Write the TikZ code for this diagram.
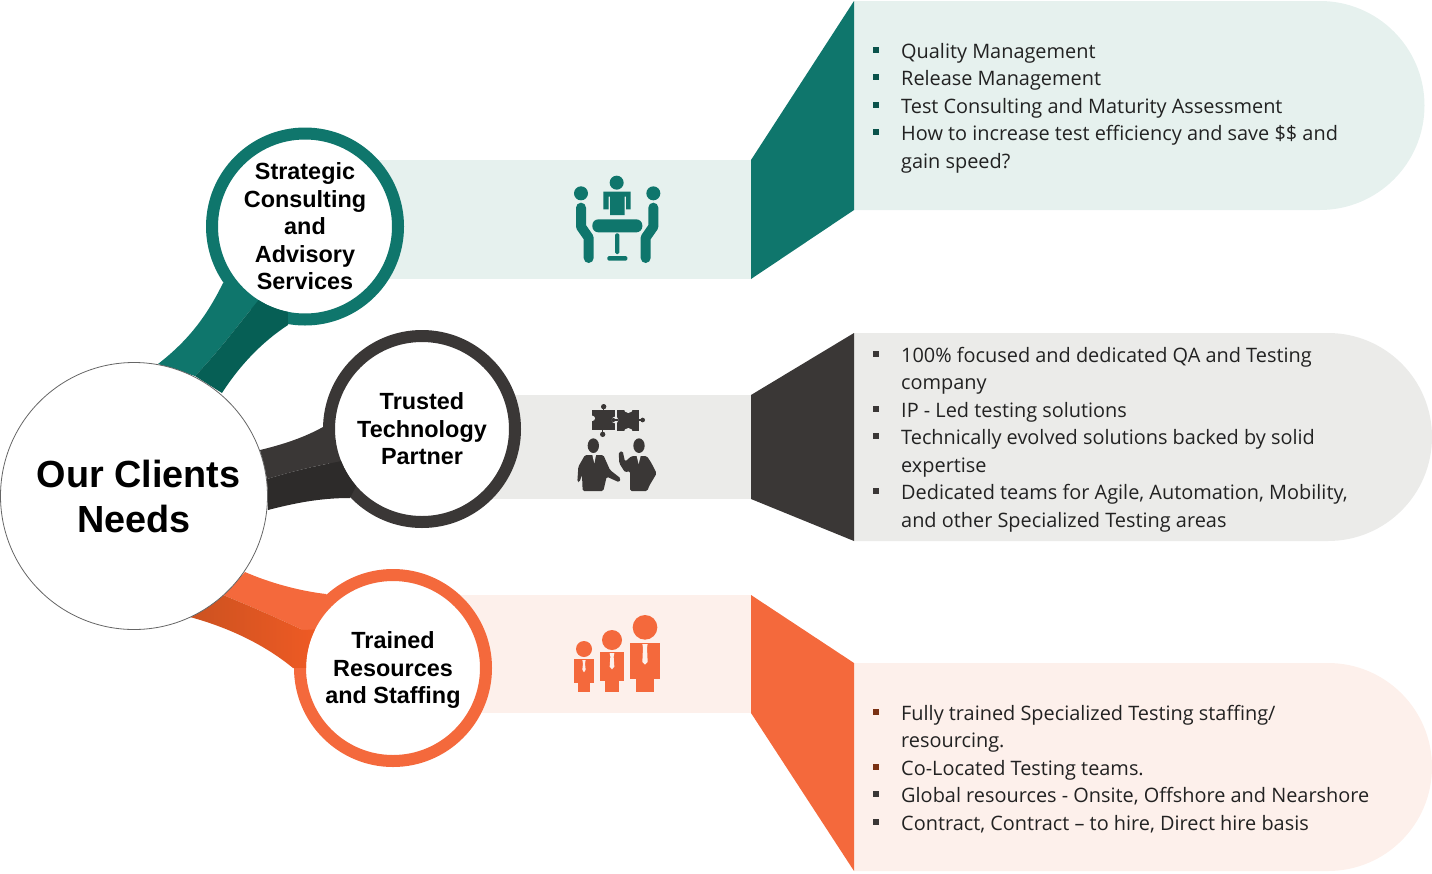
\documentclass[tikz,border=0pt]{standalone}
\usepackage{fontspec}
\setmainfont{Open Sans}
\newfontfamily\headfont{Liberation Sans}
\definecolor{teal1}{HTML}{0F766C}
\definecolor{teal2}{HTML}{065F55}
\definecolor{tealbg}{HTML}{E6F1EE}
\definecolor{dark1}{HTML}{3A3736}
\definecolor{dark2}{HTML}{2D2B2A}
\definecolor{darkbg}{HTML}{EBEBE9}
\definecolor{org1}{HTML}{F4693C}
\definecolor{org2}{HTML}{CC5220}
\definecolor{org3}{HTML}{EE5A24}
\definecolor{orgbg}{HTML}{FDF0EB}
\definecolor{bodytxt}{HTML}{222222}
\newcommand{\bul}[1]{\makebox[0pt][r]{\textcolor{#1}{\rule[5.5pt]{6pt}{6pt}}\hspace{22pt}}}
\tikzset{
  ring/.style={circle,draw=#1,fill=white,line width=12pt,minimum size=186pt,inner sep=0pt,align=center,
     font=\headfont\bfseries\fontsize{23.4}{27.5}\selectfont,text=black},
  bodyblock/.style={anchor=north west,inner sep=0pt,align=left,text=bodytxt,font=\fontsize{19.9}{27.5}\selectfont},
}
\begin{document}
\begin{tikzpicture}[x=1pt,y=-1pt]
\useasboundingbox (0,0) rectangle (1432,873);
% bands
\fill[tealbg] (370,160) rectangle (752,279);
\fill[darkbg] (490,395) rectangle (752,499);
\fill[orgbg] (460,595) rectangle (752,713);
% pills
\fill[tealbg] (854,1) -- (1320,1) arc[start angle=-90,end angle=90,radius=104.5] -- (854,210) -- cycle;
\fill[darkbg] (854,333) -- (1328,333) arc[start angle=-90,end angle=90,radius=104] -- (854,541) -- cycle;
\fill[orgbg] (854,663) -- (1328,663) arc[start angle=-90,end angle=90,radius=104] -- (854,871) -- cycle;
% funnels
\fill[teal1] (751,160) -- (854,1) -- (854,210) -- (751,279) -- cycle;
\fill[dark1] (751,395) -- (854,333) -- (854,541) -- (751,499) -- cycle;
\fill[org1] (751,595) -- (854,663) -- (854,871) -- (751,713) -- cycle;
% stems, light halves
\fill[teal1] (223,283) .. controls (205,320) and (185,343) .. (158,364) -- (195,376) .. controls (220,350) and (238,325) .. (257,302) -- (270,290) -- cycle;
\fill[dark1] (260,450) .. controls (285,444) and (305,437) .. (323,427) -- (345,440) -- (337,462) .. controls (310,467) and (290,472) .. (267,479) -- cycle;
\fill[org1] (245,572) .. controls (270,583) and (300,591) .. (326,594) -- (345,620) -- (320,636) -- (303,630) .. controls (275,617) and (250,606) .. (223,595) -- cycle;
% circles
\node[ring=teal1] (strategic) at (305,226.5) {Strategic\\Consulting\\and\\Advisory\\Services};
\node[ring=dark1] (trusted) at (422,429) {Trusted\\Technology\\Partner};
\node[ring=org1] (trained) at (393,668) {\rule{0pt}{21pt}Trained\\Resources\\and Staffing};
% stems, dark halves lying over the rings
\fill[teal2] (257,302) -- (258.4,300) arc[start angle=122.4,end angle=101.3,radius=87] -- (288,325) .. controls (262,342) and (240,365) .. (222,393) -- (195,376) .. controls (220,350) and (238,325) .. (257,302) -- cycle;
\fill[dark2] (267,479) .. controls (290,472) and (310,467) .. (337,462) -- (341.1,461) arc[start angle=158.4,end angle=139.2,radius=87] -- (350,498) .. controls (320,498) and (295,503) .. (268,510) -- cycle;
\shade[left color=org2,right color=org3] (223,595) .. controls (250,606) and (275,617) .. (303,630) -- (315,629.4) arc[start angle=206.3,end angle=180,radius=87] -- (293,668) .. controls (265,645) and (230,628) .. (190,617) -- cycle;
\node[circle,draw=black!60,fill=white,line width=.8pt,minimum size=267pt,inner sep=0pt,align=center,font=\headfont\bfseries\fontsize{37.8}{45}\selectfont] (clients) at (134,496) {\hspace*{9pt}Our Clients\\Needs};
% body text
\node[bodyblock] (b1) at (901,43) {\bul{teal1!70!black}Quality Management\\\bul{teal1!70!black}Release Management\\\bul{teal1!70!black}Test Consulting and Maturity Assessment\\\bul{teal1!70!black}How to increase test efficiency and save \$\$ and\\gain speed?};
\node[bodyblock] (b2) at (901,347) {\bul{dark1}100\% focused and dedicated QA and Testing\\company\\\bul{dark1}IP - Led testing solutions\\\bul{dark1}Technically evolved solutions backed by solid\\expertise\\\bul{dark1}Dedicated teams for Agile, Automation, Mobility,\\and other Specialized Testing areas};
\node[bodyblock] (b3) at (901,705) {\bul{org2!60!black}Fully trained Specialized Testing staffing/\\resourcing.\\\bul{org2!60!black}Co-Located Testing teams.\\\bul{dark1}Global resources - Onsite, Offshore and Nearshore\\\bul{dark1}Contract, Contract -- to hire, Direct hire basis};
% icon 1
\begin{scope}[shift={(560,170)},scale=1/3]
\fill[teal1] (170,38) circle (21);
\fill[teal1] (63,70) circle (21);
\fill[teal1] (280,70) circle (21);
\fill[teal1] (130,65) -- (212,65) -- (212,118) -- (198,118) -- (198,80) -- (194,80) -- (194,135) -- (150,135) -- (150,80) -- (146,80) -- (146,118) -- (130,118) -- cycle;
\fill[teal1,rounded corners=6pt] (97,148) rectangle (247,187);
\fill[teal1,rounded corners=1.5pt] (165,190) rectangle (178,252);
\fill[teal1,rounded corners=1.5pt] (142,258) rectangle (202,272);
\draw[teal1,line width=10pt,line cap=round,line join=round] (63,113) -- (63,170) -- (86,203) -- (86,264);
\draw[teal1,line width=10pt,line cap=round,line join=round] (280,113) -- (280,170) -- (257,203) -- (257,264);
\end{scope}
% icon 2
\begin{scope}[shift={(560,395)},scale=1/3]
\fill[dark1] (97,45) rectangle (165,105);
\fill[dark1] (172,45) rectangle (238,108);
\draw[dark1,line width=1.5pt] (131,35) -- (131,45) (128,105) -- (128,118) (238,75) -- (248,75);
\fill[dark1] (131,35) circle (8);
\fill[dark1] (128,118) circle (8);
\fill[dark1] (248,75) circle (7);
\fill[darkbg] (165,75) circle (10);
\fill[dark1] (160,75) circle (6);
\draw[dark1,line width=1.5pt] (160,75) -- (175,75);
\fill[darkbg] (205,40) circle (14);
\fill[darkbg] (205,113) circle (14);
\fill[darkbg] (97,70) circle (8);
\fill[dark1] (100,152) ellipse (17 and 22);
\fill[dark1,rounded corners=1.5pt] (75,180) -- (130,180) -- (150,225) -- (182,250) -- (178,262) -- (140,245) -- (130,288) -- (68,288) -- (66,240) -- (58,262) -- (52,260) -- (55,215) -- cycle;
\fill[darkbg] (97,180) -- (108,180) -- (103,205) -- cycle;
\fill[dark1] (237,152) ellipse (17 and 22);
\fill[dark1,rounded corners=1.5pt] (215,183) -- (260,183) -- (272,200) -- (290,235) -- (268,272) -- (262,288) -- (210,288) -- (210,228) -- (195,232) -- (178,205) -- (176,172) -- (188,168) -- (195,200) -- cycle;
\fill[darkbg] (230,183) -- (242,183) -- (236,207) -- cycle;
\end{scope}
% icon 3
\begin{scope}[shift={(560,605)},scale=1/3]
\foreach \hx/\hy/\hr/\bl/\bt/\br/\bb/\ll/\lr/\tw/\th in {72/132/24/42/162/102/235/54/90/5/40, 156/105/30/120/141/192/229/134/178/7/52, 255/67/37/210/114/300/222/228/282/8/65}{
  \fill[org1] (\hx,\hy) circle (\hr);
  \fill[org1] (\bl,\bt) rectangle (\br,\bb);
  \fill[org1] (\ll,\bb) rectangle (\lr,260);
  \pgfmathsetmacro{\cx}{(\bl+\br)/2}
  \fill[orgbg] (\cx-\tw,\bt+3) -- (\cx+\tw,\bt+3) -- (\cx+\tw-2,\bt+14) -- (\cx+\tw,\bt+\th-8) -- (\cx,\bt+\th) -- (\cx-\tw,\bt+\th-8) -- (\cx-\tw+2,\bt+14) -- cycle;
}
\end{scope}
\end{tikzpicture}
\end{document}
